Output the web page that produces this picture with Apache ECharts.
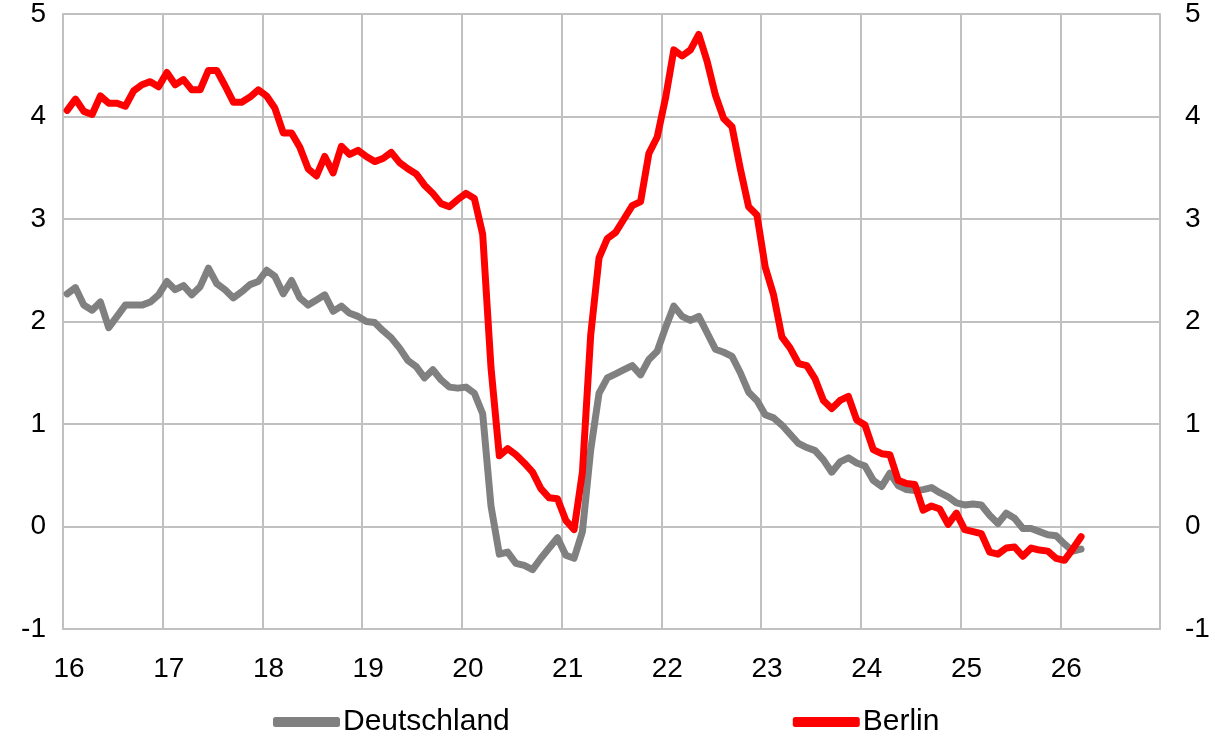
<!DOCTYPE html>
<html><head><meta charset="utf-8">
<script src="https://cdn.jsdelivr.net/npm/echarts@6/dist/echarts.min.js"></script>
<style>html,body{margin:0;padding:0;background:#fff}#c{width:1215px;height:737px}</style>
</head><body><div id="c"></div>
<script>
// Monthly series, starting January 2016 (axis shows years as 16..26)
const startYear = 16;
const yearTicks = [16, 17, 18, 19, 20, 21, 22, 23, 24, 25, 26];
const seriesNames = ['Deutschland', 'Berlin'];

const deutschland = [
  2.27, 2.33, 2.16, 2.11, 2.19, 1.94, 2.05, 2.16, 2.16, 2.16, 2.19, 2.26,
  2.39, 2.31, 2.35, 2.26, 2.34, 2.52, 2.37, 2.31, 2.23, 2.29, 2.36, 2.39,
  2.50, 2.44, 2.27, 2.40, 2.23, 2.16, 2.21, 2.26, 2.10, 2.15, 2.08, 2.05,
  2.00, 1.99, 1.91, 1.84, 1.74, 1.62, 1.56, 1.45, 1.53, 1.43, 1.36, 1.35,
  1.36, 1.30, 1.10, 0.20, -0.27, -0.25, -0.36, -0.38, -0.42, -0.31, -0.21, -0.11,
  -0.28, -0.31, -0.05, 0.75, 1.30, 1.45, 1.49, 1.53, 1.57, 1.48, 1.63, 1.71,
  1.94, 2.15, 2.05, 2.01, 2.05, 1.89, 1.73, 1.70, 1.66, 1.50, 1.31, 1.23,
  1.09, 1.06, 0.99, 0.90, 0.81, 0.77, 0.74, 0.65, 0.53, 0.63, 0.67, 0.62,
  0.59, 0.45, 0.39, 0.52, 0.40, 0.36, 0.35, 0.36, 0.38, 0.33, 0.29, 0.23,
  0.21, 0.22, 0.21, 0.11, 0.03, 0.13, 0.08, -0.02, -0.02, -0.05, -0.08, -0.09,
  -0.17, -0.24, -0.22
];

const berlin = [
  4.06, 4.17, 4.05, 4.02, 4.20, 4.13, 4.13, 4.10, 4.25, 4.31, 4.34, 4.29,
  4.43, 4.31, 4.36, 4.26, 4.26, 4.45, 4.45, 4.30, 4.14, 4.14, 4.19, 4.26,
  4.20, 4.08, 3.84, 3.84, 3.70, 3.49, 3.42, 3.61, 3.45, 3.71, 3.63, 3.67,
  3.61, 3.56, 3.59, 3.65, 3.55, 3.49, 3.44, 3.33, 3.25, 3.15, 3.12, 3.19,
  3.25, 3.20, 2.85, 1.55, 0.69, 0.76, 0.70, 0.62, 0.53, 0.37, 0.28, 0.27,
  0.06, -0.03, 0.53, 1.87, 2.62, 2.81, 2.87, 3.00, 3.13, 3.17, 3.64, 3.80,
  4.18, 4.65, 4.59, 4.65, 4.80, 4.54, 4.21, 3.98, 3.90, 3.49, 3.12, 3.04,
  2.53, 2.26, 1.85, 1.74, 1.59, 1.57, 1.44, 1.23, 1.15, 1.23, 1.27, 1.04,
  0.99, 0.75, 0.71, 0.70, 0.45, 0.42, 0.41, 0.16, 0.20, 0.17, 0.02, 0.13,
  -0.03, -0.05, -0.07, -0.25, -0.27, -0.21, -0.20, -0.29, -0.21, -0.23, -0.24, -0.31,
  -0.33, -0.22, -0.10
];

const yTicks = [-1, 0, 1, 2, 3, 4, 5];

// month i plotted at the middle of its month on the year axis
function toPoints(arr) {
  return arr.map((v, i) => [startYear + (i + 0.5) / 12, v]);
}

const FONT = 'Liberation Sans, Arial, sans-serif';
const GRID_COLOR = '#c0c0c0';

const chart = echarts.init(document.getElementById('c'), null, { renderer: 'canvas' });
chart.setOption({
  animation: false,
  backgroundColor: '#ffffff',
  textStyle: { fontFamily: FONT },
  grid: { left: 63, right: 55, top: 14, bottom: 108, containLabel: false },
  legend: {
    data: seriesNames,
    left: 268,
    top: 702,
    icon: 'roundRect',
    itemWidth: 67,
    itemHeight: 10,
    itemGap: 283,
    textStyle: { fontSize: 30, color: '#000', fontFamily: FONT, padding: [0, 0, 0, -2] }
  },
  xAxis: {
    type: 'value',
    min: yearTicks[0],
    max: yearTicks[yearTicks.length - 1] + 1,
    interval: 1,
    axisLine: { show: true, onZero: false, lineStyle: { color: GRID_COLOR, width: 2 } },
    axisTick: { show: false },
    splitLine: { show: true, lineStyle: { color: GRID_COLOR, width: 2 } },
    axisLabel: {
      fontSize: 28, color: '#000', fontFamily: FONT, margin: 26,
      padding: [0, 0, 0, 12],
      showMaxLabel: false,
      formatter: v => (yearTicks.indexOf(v) >= 0 ? String(v) : '')
    }
  },
  yAxis: [
    {
      type: 'value', min: yTicks[0], max: yTicks[yTicks.length - 1], interval: 1,
      position: 'left',
      axisLine: { show: true, lineStyle: { color: GRID_COLOR, width: 2 } },
      axisTick: { show: false },
      splitLine: { show: true, lineStyle: { color: GRID_COLOR, width: 2 } },
      axisLabel: { fontSize: 28, color: '#000', fontFamily: FONT, margin: 17 }
    },
    {
      type: 'value', min: yTicks[0], max: yTicks[yTicks.length - 1], interval: 1,
      position: 'right',
      axisLine: { show: true, lineStyle: { color: GRID_COLOR, width: 2 } },
      axisTick: { show: false },
      splitLine: { show: false },
      axisLabel: { fontSize: 28, color: '#000', fontFamily: FONT, margin: 25 }
    }
  ],
  series: [
    {
      name: seriesNames[0], type: 'line', data: toPoints(deutschland),
      symbol: 'none', color: '#808080',
      lineStyle: { color: '#808080', width: 7, cap: 'round', join: 'round' },
      itemStyle: { color: '#808080' }
    },
    {
      name: seriesNames[1], type: 'line', data: toPoints(berlin),
      symbol: 'none', color: '#ff0000',
      lineStyle: { color: '#ff0000', width: 7, cap: 'round', join: 'round' },
      itemStyle: { color: '#ff0000' }
    }
  ]
});
</script>
</body></html>
